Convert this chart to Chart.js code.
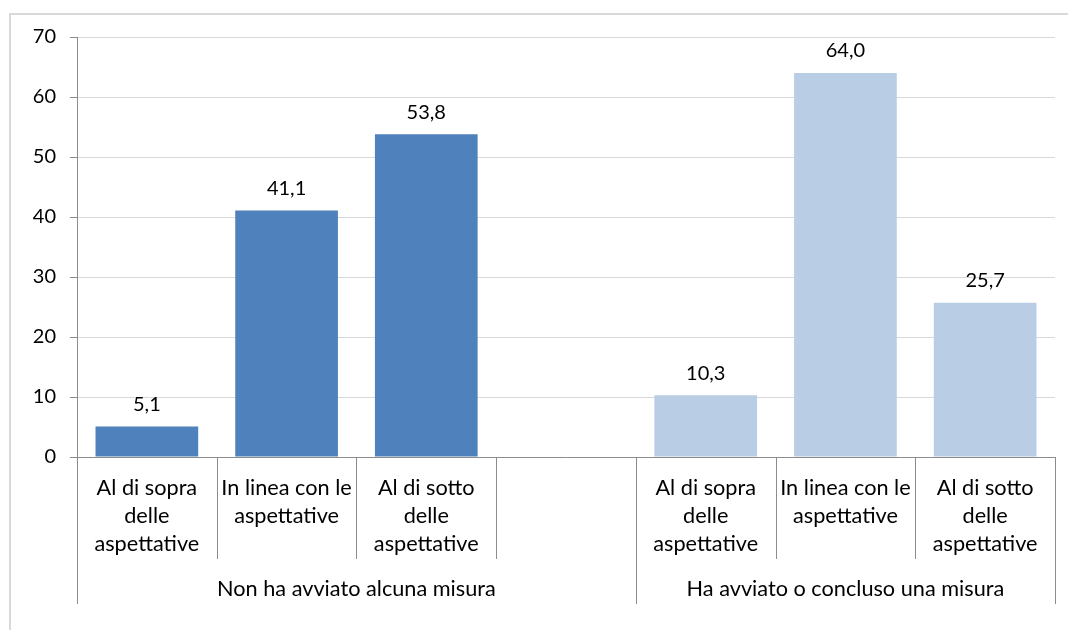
<!DOCTYPE html>
<html>
<head>
<meta charset="utf-8">
<script src="https://cdn.jsdelivr.net/npm/chart.js@4/dist/chart.umd.min.js"></script>
<style>
  body { margin: 0; background: #fff; }
  #wrap { width: 1068px; height: 630px; }
</style>
</head>
<body>
<div id="wrap"><canvas id="myChart" width="1068" height="630"></canvas></div>
<script>
// data
const categoryLines = [
    ['Al di sopra', 'delle', 'aspettative'],
    ['In linea con le', 'aspettative'],
    ['Al di sotto', 'delle', 'aspettative'],
    [],
    ['Al di sopra', 'delle', 'aspettative'],
    ['In linea con le', 'aspettative'],
    ['Al di sotto', 'delle', 'aspettative']
];
const values = [5.1, 41.1, 53.8, null, 10.3, 64.0, 25.7];
const groupLabels = ['Non ha avviato alcuna misura', 'Ha avviato o concluso una misura'];
const groupSizes = [4, 3];
const groupColors = ['#4f81bd', '#b9cde5'];
const yTicks = [0, 10, 20, 30, 40, 50, 60, 70];

const FONT = 'Lato, "Open Sans", sans-serif';
const axisColor = '#8c8c8c';

let barColors = [];
groupSizes.forEach((n, g) => { for (let i = 0; i < n; i++) barColors.push(groupColors[g]); });

const framePlugin = {
    id: 'frame',
    beforeDraw(chart) {
        const ctx = chart.ctx;
        ctx.save();
        ctx.fillStyle = '#fff';
        ctx.fillRect(0, 0, chart.width, chart.height);
        ctx.strokeStyle = '#d9d9d9';
        ctx.lineWidth = 2;
        ctx.beginPath();
        ctx.moveTo(10, chart.height);
        ctx.lineTo(10, 14);
        ctx.lineTo(chart.width, 14);
        ctx.stroke();
        ctx.restore();
    }
};

const valueLabels = {
    id: 'valueLabels',
    afterDatasetsDraw(chart) {
        const ctx = chart.ctx;
        const meta = chart.getDatasetMeta(0);
        ctx.save();
        ctx.font = '20px ' + FONT;
        ctx.fillStyle = '#000';
        ctx.textAlign = 'center';
        ctx.textBaseline = 'middle';
        meta.data.forEach((bar, i) => {
            if (values[i] === null) return;
            ctx.fillText(values[i].toFixed(1).replace('.', ','), bar.x, bar.y - 22);
        });
        ctx.restore();
    }
};

const multiLevelAxis = {
    id: 'multiLevelAxis',
    afterDraw(chart) {
        const ctx = chart.ctx;
        const xs = chart.scales.x;
        const bottom = chart.chartArea.bottom;
        const half = (xs.getPixelForValue(1) - xs.getPixelForValue(0)) / 2;
        const n = categoryLines.length;
        let groupEdges = [0];
        groupSizes.forEach(s => groupEdges.push(groupEdges[groupEdges.length - 1] + s));

        ctx.save();
        ctx.strokeStyle = axisColor;
        ctx.lineWidth = 1;
        for (let k = 0; k <= n; k++) {
            const x = Math.round(k < n ? xs.getPixelForValue(k) - half : xs.getPixelForValue(n - 1) + half) + 0.5;
            const len = groupEdges.includes(k) ? 147 : 102;
            ctx.beginPath();
            ctx.moveTo(x, bottom);
            ctx.lineTo(x, bottom + len);
            ctx.stroke();
        }

        ctx.font = '21.7px ' + FONT;
        ctx.fillStyle = '#000';
        ctx.textAlign = 'center';
        ctx.textBaseline = 'middle';
        categoryLines.forEach((lines, i) => {
            const x = xs.getPixelForValue(i);
            lines.forEach((t, j) => ctx.fillText(t, x, bottom + 31 + j * 28));
        });
        groupLabels.forEach((t, g) => {
            const a = xs.getPixelForValue(groupEdges[g]) - half;
            const b = xs.getPixelForValue(groupEdges[g + 1] - 1) + half;
            ctx.fillText(t, (a + b) / 2, bottom + 132);
        });
        ctx.restore();
    }
};

function drawChart() {
    const ctx = document.getElementById('myChart');
    new Chart(ctx, {
        type: 'bar',
        data: {
            labels: categoryLines.map(l => l.join(' ')),
            datasets: [{
                data: values,
                backgroundColor: barColors,
                borderWidth: 0,
                barPercentage: 0.735,
                categoryPercentage: 1
            }]
        },
        options: {
            responsive: false,
            animation: false,
            layout: { padding: { left: 0, top: 37, right: 13, bottom: 0 } },
            plugins: { legend: { display: false }, tooltip: { enabled: false } },
            scales: {
                x: {
                    afterFit: s => { s.height = 173; },
                    ticks: { display: false },
                    grid: { display: true, drawOnChartArea: false, drawTicks: false },
                    border: { display: true, color: axisColor, width: 1 }
                },
                y: {
                    min: 0,
                    max: yTicks[yTicks.length - 1],
                    afterFit: s => { s.width = 77; },
                    afterBuildTicks: s => { s.ticks = yTicks.map(v => ({ value: v })); },
                    ticks: {
                        padding: 14,
                        color: '#000',
                        font: { family: FONT, size: 20 }
                    },
                    grid: { color: '#d9d9d9', tickColor: axisColor, tickLength: 7 },
                    border: { display: true, color: axisColor, width: 1 }
                }
            }
        },
        plugins: [framePlugin, valueLabels, multiLevelAxis]
    });
}

window.addEventListener('load', function() {
    document.fonts.load('20px Lato').then(drawChart, drawChart);
});
</script>
</body>
</html>
